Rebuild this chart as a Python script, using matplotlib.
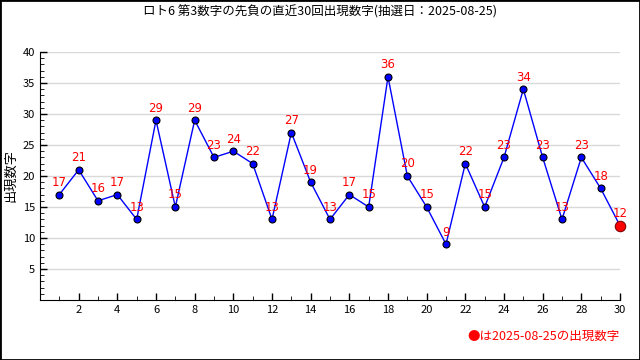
import matplotlib
matplotlib.use("Agg")
import matplotlib.pyplot as plt
from matplotlib.ticker import MultipleLocator

plt.rcParams['font.family'] = ['Noto Sans CJK JP', 'DejaVu Sans']

# 直近30回の第3数字
kai = list(range(1, 31))
suji = [17, 21, 16, 17, 13, 29, 15, 29, 23, 24, 22, 13, 27, 19, 13,
        17, 15, 36, 20, 15, 9, 22, 15, 23, 34, 23, 13, 23, 18, 12]
title = "ロト6 第3数字の先負の直近30回出現数字(抽選日：2025-08-25)"
note = "●は2025-08-25の出現数字"

fig = plt.figure(figsize=(6.4, 3.6), dpi=100)
ax = fig.add_axes([40/640, 60/360, 580/640, 248/360])

ax.grid(axis="y", color="#d9d9d9", linewidth=1)
ax.set_axisbelow(True)
ax.plot(kai, suji, color="blue", linewidth=1, marker="o", markersize=5,
        markerfacecolor="blue", markeredgecolor="black", markeredgewidth=0.8,
        zorder=3, clip_on=False)
ax.plot(kai[-1], suji[-1], "o", color="red", markersize=7.5,
        markeredgecolor="#800000", markeredgewidth=0.8, zorder=4, clip_on=False)

for x, y in zip(kai, suji):
    ax.annotate(str(y), (x, y), xytext=(0, 4), textcoords="offset points",
                ha="center", va="bottom", color="red", fontsize=8.5,
                family="DejaVu Sans", zorder=5)

ax.set_xlim(0, 30)
ax.set_ylim(0, 40)
ax.set_xticks(list(range(2, 31, 2)))
ax.xaxis.set_minor_locator(MultipleLocator(1))
ax.set_yticks([5, 10, 15, 20, 25, 30, 35, 40])
ax.yaxis.set_minor_locator(MultipleLocator(1))
ax.tick_params(direction="in", length=5, width=1, labelsize=8)
ax.tick_params(which="minor", direction="in", length=3)
ax.tick_params(axis="x", which="both", top=False)
ax.tick_params(axis="y", which="both", right=False)
for s in ["top", "right"]:
    ax.spines[s].set_visible(False)

ax.set_ylabel("出現数字", fontsize=9.5, labelpad=4)
fig.text(0.5, 1 - 12/360, title, ha="center", va="center", fontsize=9)
fig.text(620/640, 1 - 336/360, note, ha="right", va="center", color="red", fontsize=9)

fig.patches.append(plt.Rectangle((0, 0), 1, 1, transform=fig.transFigure,
                                 fill=False, edgecolor="black", linewidth=2))

fig.savefig("out.png", dpi=100)
